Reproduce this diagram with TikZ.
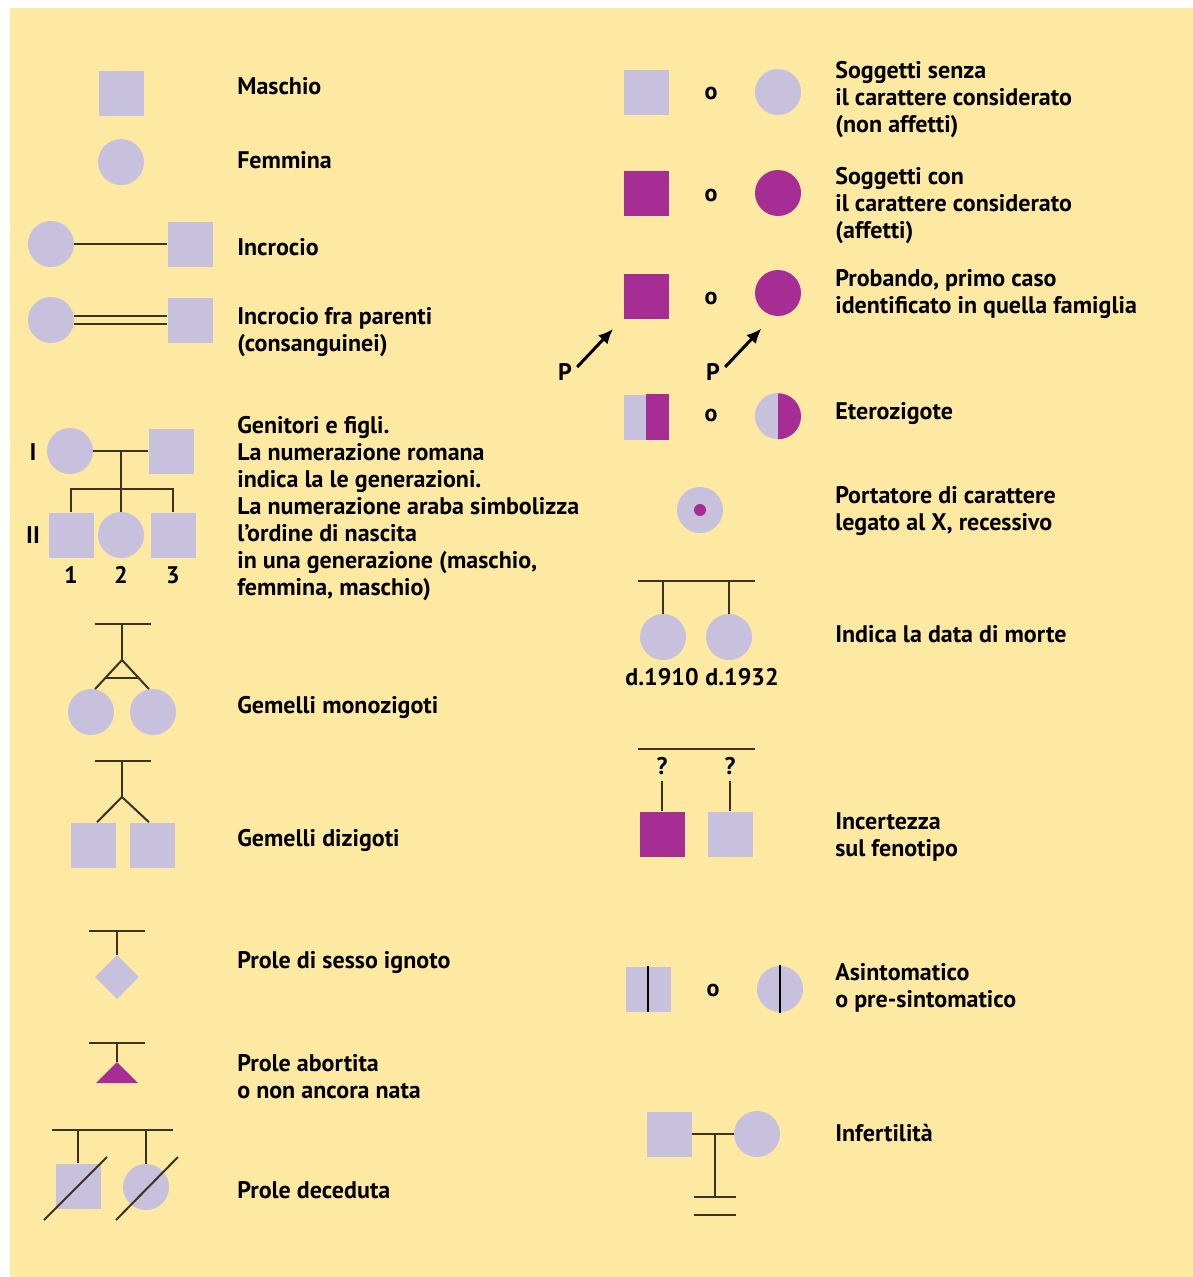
\documentclass[tikz,border=0pt]{standalone}
\usepackage{fontspec}
\setmainfont{PT Sans}
\usepackage{tikz}
\usetikzlibrary{positioning,shapes.geometric,calc,arrows.meta}
\definecolor{sfondo}{HTML}{FDE9A2}
\definecolor{lilla}{HTML}{C7C1DD}
\definecolor{viola}{HTML}{A52D94}
\definecolor{linea}{HTML}{3C3220}

\begin{document}
\begin{tikzpicture}[x=1pt,y=-1pt,semithick,
        maschio/.style = {rectangle, fill=lilla, minimum size=45pt, inner sep=0pt},
        femmina/.style = {circle, fill=lilla, minimum size=46pt, inner sep=0pt},
        legame/.style = {draw=linea, line width=2pt},
        freccia/.style = {-{Latex[length=15pt,width=13pt]}, line width=3pt},
        testo/.style = {anchor=west, align=left, inner sep=0pt, font=\fontsize{24}{27}\selectfont\bfseries},
        segno/.style = {inner sep=0pt, font=\fontsize{24}{27}\selectfont\bfseries}]
    \useasboundingbox (0,0) rectangle (1193,1277);
    \fill[sfondo] (10,8) rectangle (1193,1277);

    % colonna sinistra
    \node[maschio] (m1) at (121,93) {};
    \node[femmina] (f1) [below=23pt of m1] {};
    \node[testo] (t1) at (237,86) {Maschio};
    \node[testo] (t2) at (237,160) {Femmina};

    \node[femmina] (f2) at (51,244) {};
    \node[maschio] (m2) [right=93pt of f2] {};
    \draw[legame] (f2) -- (m2);
    \node[testo] (t3) at (237,247) {Incrocio};

    \node[femmina] (f3) at (51,320) {};
    \node[maschio] (m3) [right=93pt of f3] {};
    \draw[draw=linea, line width=2pt, double=sfondo, double distance=6pt] (f3) -- (m3);
    \node[testo] (t4) at (237,332) {Incrocio fra parenti\\(consanguinei)};

    % genitori e figli
    \node[femmina] (g1) at (70,451) {};
    \node[maschio] (g2) at (171,451) {};
    \coordinate (gm) at (121,451);
    \coordinate (gs) at (121,489);
    \node[maschio] (c1) at (71,535) {};
    \node[femmina] (c2) at (121,535) {};
    \node[maschio] (c3) at (173,535) {};
    \draw[legame] (g1) -- (g2);
    \draw[legame] (gm) -- (c2.north);
    \draw[legame] (c1.north) -- (c1.north |- gs) -- (c3.north |- gs) -- (c3.north);
    \node[segno] (gen1) at (33,452) {I};
    \node[segno] (gen2) at (33,535) {II};
    \node[segno] (n1) at (71,575) {1};
    \node[segno] (n2) at (121,575) {2};
    \node[segno] (n3) at (173,575) {3};
    \node[testo] (t5) at (237,509) {Genitori e figli.\\La numerazione romana\\indica la le generazioni.\\La numerazione araba simbolizza\\l’ordine di nascita\\in una generazione (maschio,\\femmina, maschio)};

    % gemelli
    \coordinate (mzl) at (95,624);
    \coordinate (mzr) at (151,624);
    \coordinate (mzt) at (122,624);
    \coordinate (mzv) at (122,660);
    \node[femmina] (mz1) at (91,712) {};
    \node[femmina] (mz2) at (153,712) {};
    \draw[legame] (mzl) -- (mzr);
    \draw[legame] (mzt) -- (mzv);
    \draw[legame] (mz1.80) -- (mzv) -- (mz2.100);
    \draw[legame] ($(mzv)!0.63!(mz1.80)$) -- ($(mzv)!0.63!(mz2.100)$);
    \node[testo] (t6) at (237,707) {Gemelli monozigoti};

    \coordinate (dzl) at (95,761);
    \coordinate (dzr) at (151,761);
    \coordinate (dzt) at (122,761);
    \coordinate (dzv) at (122,797);
    \node[maschio] (dz1) at (93,845) {};
    \node[maschio] (dz2) at (152,845) {};
    \draw[legame] (dzl) -- (dzr);
    \draw[legame] (dzt) -- (dzv);
    \draw[legame] ([xshift=4pt]dz1.north) -- (dzv) -- ([xshift=-3pt]dz2.north);
    \node[testo] (t7) at (237,840) {Gemelli dizigoti};

    % prole
    \coordinate (igl) at (89,931);
    \coordinate (igr) at (145,931);
    \coordinate (igt) at (117,931);
    \node[diamond, fill=lilla, minimum size=44pt, inner sep=0pt] (ig) at (117,977) {};
    \draw[legame] (igl) -- (igr);
    \draw[legame] (igt) -- (ig.north);
    \node[testo] (t8) at (237,962) {Prole di sesso ignoto};

    \coordinate (abl) at (89,1043);
    \coordinate (abr) at (145,1043);
    \coordinate (abt) at (117,1043);
    \coordinate (abo) at (117,1062);
    \draw[legame] (abl) -- (abr);
    \draw[legame] (abt) -- (abo);
    \fill[viola] (abo) -- ++(21,21) -- ++(-42,0) -- cycle;
    \node[testo] (t9) at (237,1077) {Prole abortita\\o non ancora nata};

    \coordinate (dcl) at (52,1130);
    \coordinate (dcr) at (173,1130);
    \node[maschio] (dc1) at (78,1186) {};
    \node[femmina] (dc2) at (146,1187) {};
    \draw[legame] (dcl) -- (dcr);
    \draw[legame] (dc1.north) -- (dc1.north |- dcl);
    \draw[legame] (dc2.north) -- (dc2.north |- dcl);
    \draw[legame] ([shift={(-34pt,-34pt)}]dc1.center) -- ([shift={(29pt,29pt)}]dc1.center);
    \draw[legame] ([shift={(-30pt,-33pt)}]dc2.center) -- ([shift={(32pt,30pt)}]dc2.center);
    \node[testo] (t10) at (237,1190) {Prole deceduta};

    % colonna destra
    \node[maschio] (r1m) at (646,92) {};
    \node[segno] (r1o) at (711,93) {o};
    \node[femmina] (r1f) at (778,92) {};
    \node[testo] (s1) at (835,100) {Soggetti senza\\il carattere considerato\\(non affetti)};

    \node[maschio, fill=viola] (r2m) at (646,193) {};
    \node[segno] (r2o) at (711,195) {o};
    \node[femmina, fill=viola] (r2f) at (778,193) {};
    \node[testo] (s2) at (835,206) {Soggetti con\\il carattere considerato\\(affetti)};

    \node[maschio, fill=viola] (r3m) at (646,296) {};
    \node[segno] (r3o) at (711,298) {o};
    \node[femmina, fill=viola] (r3f) at (778,293) {};
    \node[segno] (p1) at (565,372) {P};
    \node[segno] (p2) at (713,372) {P};
    \draw[freccia] ([shift={(5pt,5pt)}]p1.east) -- ([shift={(-10pt,-10pt)}]r3m.south west);
    \draw[freccia] ([shift={(5pt,5pt)}]p2.east) -- ([shift={(0pt,-19pt)}]r3f.south west);
    \node[testo] (s3) at (835,294) {Probando, primo caso\\identificato in quella famiglia};

    \node[maschio] (r4m) at (646,417) {};
    \fill[viola] (r4m.north) -- (r4m.north east) -- (r4m.south east) -- (r4m.south) -- cycle;
    \node[segno] (r4o) at (711,415) {o};
    \node[femmina] (r4f) at (778,416) {};
    \fill[viola] (r4f.south) arc[start angle=-90, end angle=90, radius=23pt] -- cycle;
    \node[testo] (s4) at (835,414) {Eterozigote};

    \node[femmina] (pc) at (700,510) {};
    \node[circle, fill=viola, minimum size=12pt, inner sep=0pt] (pdot) at (pc) {};
    \node[testo] (s5) at (835,511) {Portatore di carattere\\legato al X, recessivo};

    \coordinate (dml) at (638,581);
    \coordinate (dmr) at (755,581);
    \node[femmina] (dm1) at (663,637) {};
    \node[femmina] (dm2) at (729,637) {};
    \draw[legame] (dml) -- (dmr);
    \draw[legame] (dm1.north) -- (dm1.north |- dml);
    \draw[legame] (dm2.north) -- (dm2.north |- dml);
    \node[segno] (d1) at (662,677) {d.1910};
    \node[segno] (d2) at (742,677) {d.1932};
    \node[testo] (s6) at (835,634) {Indica la data di morte};

    \coordinate (inl) at (638,749);
    \coordinate (inr) at (755,749);
    \draw[legame] (inl) -- (inr);
    \node[segno] (q1) at (662,766) {?};
    \node[segno] (q2) at (730,766) {?};
    \node[maschio, fill=viola] (i1) at (662,834) {};
    \node[maschio] (i2) at (730,834) {};
    \draw[legame] ([yshift=-6pt]q1.south) -- (i1.north);
    \draw[legame] ([yshift=-6pt]q2.south) -- (i2.north);
    \node[testo] (s7) at (835,837) {Incertezza\\sul fenotipo};

    \node[maschio] (as1) at (648,989) {};
    \node[segno] (aso) at (713,990) {o};
    \node[femmina] (as2) at (780,989) {};
    \draw[draw=black, line width=2pt] (as1.north) -- (as1.south);
    \draw[draw=black, line width=2pt] ([yshift=1pt]as2.north) -- ([yshift=-1pt]as2.south);
    \node[testo] (s8) at (835,988) {Asintomatico\\o pre-sintomatico};

    \node[maschio] (if1) at (669,1134) {};
    \node[femmina] (if2) at (757,1134) {};
    \coordinate (ifm) at (715,1134);
    \coordinate (ifb) at (715,1197);
    \draw[legame] (if1) -- (if2);
    \draw[legame] (ifm) -- (ifb);
    \draw[legame] ([xshift=-21pt]ifb) -- ([xshift=21pt]ifb);
    \draw[legame] ([shift={(-21pt,-18pt)}]ifb) -- ([shift={(21pt,-18pt)}]ifb);
    \node[testo] (s9) at (835,1133) {Infertilità};
\end{tikzpicture}
\end{document}
